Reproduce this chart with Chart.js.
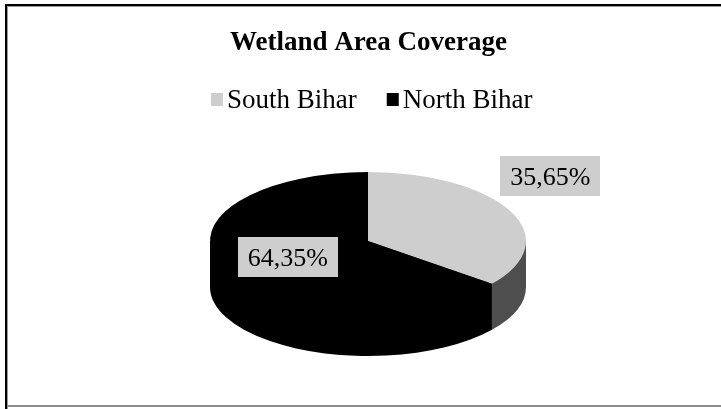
<!DOCTYPE html>
<html>
<head>
<meta charset="utf-8">
<script src="https://cdn.jsdelivr.net/npm/chart.js@4/dist/chart.umd.min.js"></script>
<style>
  html, body { margin: 0; padding: 0; background: #fff; }
  canvas { display: block; }
</style>
</head>
<body>
<canvas id="chart" width="721" height="409"></canvas>
<script>
// Wetland area split between the two halves of Bihar (percent of total)
const categories = ['South Bihar', 'North Bihar'];
const shares = [35.65, 64.35];
const valueLabels = ['35,65%', '64,35%'];
const sliceColors = ['#cfcecf', '#000000'];
const sideColors = ['#4e4e4e', '#000000'];

const SERIF = '"Liberation Serif", "Times New Roman", serif';

// Tilted pie: top face ellipse and the thickness of the rim
const PIE = { cx: 368, cy: 241, rx: 158, ry: 69, depth: 46 };
// Where each value box sits, relative to the slice's mid-angle on the top face
const LABEL_POS = [
  { f: 1.0, dx: 40, dy: -35 },
  { f: 0.5, dx: -9, dy: 1 }
];

// White page with the outer frame
const framePlugin = {
  id: 'frame',
  beforeDraw(chart) {
    const ctx = chart.ctx;
    ctx.save();
    ctx.fillStyle = '#fff';
    ctx.fillRect(0, 0, chart.width, chart.height);
    ctx.fillStyle = '#000';
    ctx.fillRect(5, 4, chart.width - 5, 2);
    ctx.fillRect(5, 4, 2, chart.height - 4);
    ctx.fillStyle = '#9a9a9a';
    ctx.fillRect(7, 6, chart.width - 7, 1);
    ctx.fillRect(7, 6, 1, chart.height - 6);
    ctx.fillStyle = '#8c8c8c';
    ctx.fillRect(7, 405, chart.width - 7, 2);
    ctx.restore();
  }
};

// Turns the flat pie into a tilted disc: rim first, then the squashed top face
const tiltPlugin = {
  id: 'tilt',
  beforeDatasetsDraw(chart) {
    const ctx = chart.ctx;
    const arcs = chart.getDatasetMeta(0).data;
    if (!arcs.length) return;
    const { cx, cy, rx, ry, depth } = PIE;

    // Front rim: only the part of each slice facing the viewer (0..PI).
    // Outline runs centre -> top edge -> down the rim -> back, as one shape,
    // so the rim joins the top face without a seam.
    arcs.forEach((arc, i) => {
      const s = arc.startAngle, e = arc.endAngle;
      [0, 2 * Math.PI].forEach(shift => {
        const a1 = Math.max(s, shift), a2 = Math.min(e, shift + Math.PI);
        if (a2 <= a1) return;
        ctx.save();
        ctx.beginPath();
        ctx.moveTo(cx, cy);
        ctx.lineTo(cx + rx * Math.cos(a1), cy + ry * Math.sin(a1));
        ctx.lineTo(cx + rx * Math.cos(a1), cy + depth + ry * Math.sin(a1));
        ctx.ellipse(cx, cy + depth, rx, ry, 0, a1, a2, false);
        ctx.lineTo(cx + rx * Math.cos(a2), cy + ry * Math.sin(a2));
        ctx.closePath();
        ctx.fillStyle = sideColors[i];
        ctx.fill();
        ctx.restore();
      });
    });

    const a = arcs[0];
    const r = a.outerRadius;
    ctx.save();
    ctx.translate(cx, cy);
    ctx.scale(rx / r, ry / r);
    ctx.translate(-a.x, -a.y);
  },
  afterDatasetsDraw(chart) {
    const ctx = chart.ctx;
    ctx.restore();

    // Value boxes
    const arcs = chart.getDatasetMeta(0).data;
    const { cx, cy, rx, ry } = PIE;
    ctx.save();
    ctx.font = '26px ' + SERIF;
    ctx.textAlign = 'center';
    ctx.textBaseline = 'middle';
    arcs.forEach((arc, i) => {
      const mid = (arc.startAngle + arc.endAngle) / 2;
      const p = LABEL_POS[i];
      const x = cx + rx * p.f * Math.cos(mid) + p.dx;
      const y = cy + ry * p.f * Math.sin(mid) + p.dy;
      const text = valueLabels[i];
      const w = ctx.measureText(text).width + 20;
      const h = 40;
      ctx.fillStyle = '#cfcecf';
      ctx.fillRect(Math.round(x - w / 2), Math.round(y - h / 2), Math.round(w), h);
      ctx.fillStyle = '#000';
      ctx.fillText(text, x, y + 2);
    });
    ctx.restore();
  }
};

// Legend row under the title: square swatch + category name
const swatchLegend = {
  id: 'swatchLegend',
  afterDraw(chart) {
    const ctx = chart.ctx;
    const labels = chart.data.labels;
    const colors = chart.data.datasets[0].backgroundColor;
    const box = 12, gap = 4, itemGap = 30;
    ctx.save();
    ctx.font = '27px ' + SERIF;
    ctx.textBaseline = 'alphabetic';
    ctx.textAlign = 'left';
    const widths = labels.map(t => ctx.measureText(t).width);
    const total = widths.reduce((s, w) => s + box + gap + w, 0) + itemGap * (labels.length - 1);
    let x = Math.round(372 - total / 2);
    labels.forEach((t, i) => {
      ctx.fillStyle = colors[i];
      ctx.fillRect(x, 93, box, 13);
      ctx.fillStyle = '#000';
      ctx.fillText(t, x + box + gap, 108);
      x += box + gap + widths[i] + itemGap;
    });
    ctx.restore();
  }
};

new Chart(document.getElementById('chart'), {
  type: 'pie',
  data: {
    labels: categories,
    datasets: [{
      data: shares,
      backgroundColor: sliceColors,
      borderWidth: 0
    }]
  },
  options: {
    responsive: false,
    animation: false,
    events: [],
    layout: { padding: { left: 16, top: 0, right: 0, bottom: 10 } },
    plugins: {
      legend: { display: false },
      tooltip: { enabled: false },
      title: {
        display: true,
        text: 'Wetland Area Coverage',
        color: '#000',
        font: { family: SERIF, size: 27, weight: 'bold' },
        padding: { top: 27, bottom: 70 }
      }
    }
  },
  plugins: [framePlugin, tiltPlugin, swatchLegend]
});
</script>
</body>
</html>
